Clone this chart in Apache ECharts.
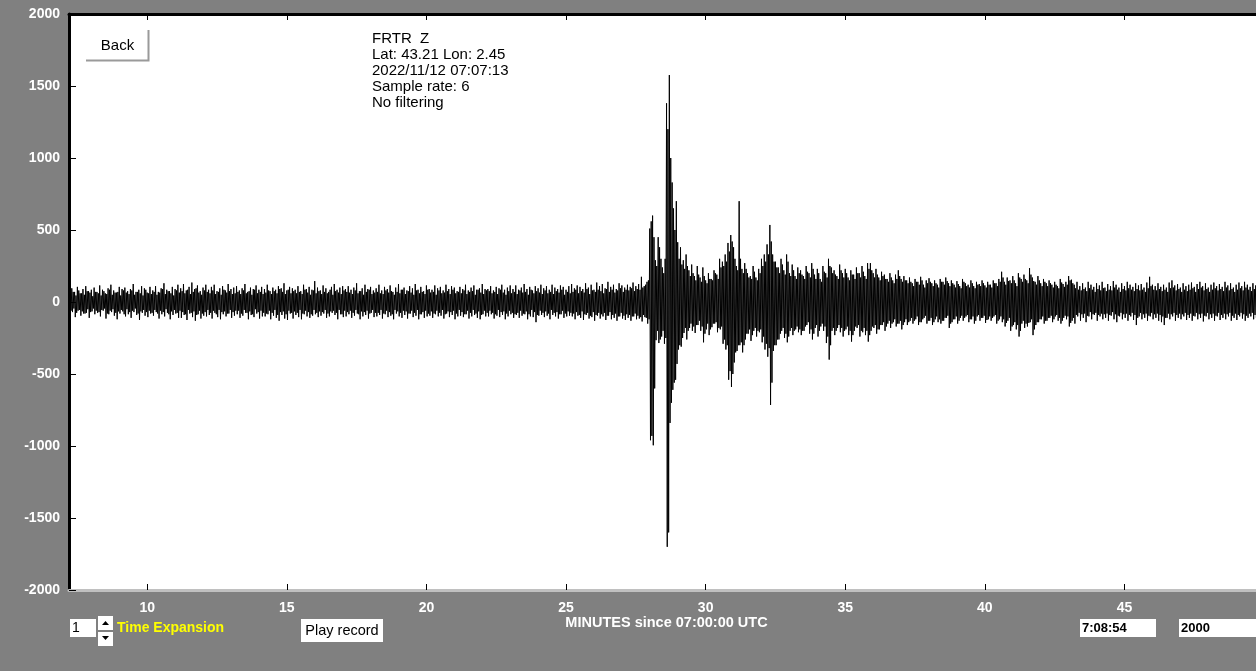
<!DOCTYPE html>
<html>
<head>
<meta charset="utf-8">
<script src="https://cdn.jsdelivr.net/npm/echarts@6/dist/echarts.min.js"></script>
<style>
html,body{margin:0;padding:0;background:#808080;overflow:hidden;}
#chart{width:1256px;height:671px;}
</style>
</head>
<body>
<div id="chart"></div>
<script>
// ---- data (minutes since 07:00:00 UTC, counts) ----
const startMinute = 7.2;      // time of first envelope step
const stepMinutes = 0.1;      // spacing of envelope steps
// outer swings (spikes) of each step
const upperPeaks = [
 80,95,70,105,60,90,110,75,85,100,
 70,115,85,60,95,120,80,65,105,90,
 100,75,90,125,70,85,110,95,65,105,
 80,110,70,95,130,85,75,105,90,120,
 95,125,80,105,135,90,115,75,100,120,
 85,105,120,75,95,110,80,125,90,100,
 110,80,95,125,70,100,90,115,85,105,
 90,120,75,100,85,110,95,130,80,105,
 95,85,110,75,120,90,105,85,145,100,
 80,115,95,70,105,125,85,100,110,90,
 110,85,100,130,75,95,120,90,105,80,
 95,120,80,105,90,115,70,100,125,85,
 100,80,110,95,125,85,105,75,115,90,
 85,115,95,105,80,120,90,110,100,75,
 105,90,120,80,100,115,85,95,125,90,
 90,110,80,105,95,120,85,100,115,90,
 115,85,100,125,90,105,80,110,95,120,
 95,110,85,120,100,90,115,105,85,110,
 125,95,115,105,90,130,100,120,85,135,
 110,125,95,140,105,120,90,130,115,100,
 120,105,135,110,125,175,110,140,510,600,
 290,450,300,200,1380,1576,830,500,415,380,
 290,330,220,260,180,250,170,240,150,200,
 160,220,190,300,280,330,410,465,380,250,
 700,230,270,200,180,250,170,230,300,330,
 400,535,330,280,240,300,220,330,200,260,
 180,240,220,180,250,200,270,190,230,160,
 250,200,300,240,220,180,260,200,230,170,
 220,190,240,200,250,180,270,270,200,230,
 170,210,190,160,200,150,190,220,160,180,
 150,170,130,160,140,175,120,150,165,130,
 150,120,160,140,170,130,150,120,145,110,
 160,130,120,150,110,140,125,150,115,140,
 120,150,130,160,210,140,170,150,180,130,
 200,160,190,150,235,170,140,180,130,160,
 130,150,120,140,110,160,125,140,180,155,
 120,140,110,130,100,140,120,105,130,115,
 140,100,125,110,145,120,100,130,110,140,
 120,105,130,115,125,100,135,175,120,110,
 130,105,120,100,135,150,115,125,100,130,
 110,120,135,105,125,140,110,130,100,120,
 135,110,125,105,140,115,130,100,120,135,
 110,140,120,105,130,115
];
const lowerPeaks = [
 -90,-70,-105,-60,-95,-80,-75,-110,-65,-85,
 -75,-100,-60,-115,-85,-70,-95,-120,-80,-65,
 -100,-85,-110,-70,-90,-125,-75,-95,-105,-80,
 -95,-70,-115,-85,-100,-75,-120,-90,-80,-110,
 -110,-90,-125,-80,-105,-130,-85,-115,-95,-100,
 -90,-115,-75,-105,-120,-85,-100,-80,-110,-95,
 -85,-110,-95,-75,-120,-90,-105,-80,-115,-100,
 -100,-85,-120,-95,-110,-130,-90,-115,-125,-80,
 -115,-90,-105,-120,-85,-100,-110,-95,-85,-105,
 -95,-80,-110,-100,-75,-90,-120,-85,-105,-100,
 -85,-110,-95,-80,-120,-100,-90,-115,-75,-105,
 -100,-90,-115,-85,-105,-95,-120,-80,-100,-110,
 -90,-115,-80,-105,-95,-120,-85,-110,-100,-95,
 -110,-85,-100,-95,-115,-80,-105,-90,-120,-100,
 -95,-105,-85,-115,-100,-90,-110,-120,-85,-100,
 -100,-85,-115,-95,-105,-90,-120,-100,-85,-110,
 -90,-110,-95,-85,-120,-100,-105,-140,-95,-90,
 -105,-95,-120,-90,-100,-115,-85,-110,-100,-95,
 -100,-120,-95,-110,-125,-90,-115,-105,-130,-95,
 -115,-100,-125,-95,-120,-110,-130,-100,-115,-125,
 -110,-130,-100,-120,-115,-135,-105,-150,-960,-995,
 -265,-285,-240,-290,-1700,-840,-610,-540,-330,-310,
 -215,-260,-180,-200,-215,-160,-200,-280,-190,-230,
 -175,-150,-210,-190,-290,-330,-540,-590,-420,-340,
 -300,-350,-260,-220,-270,-200,-240,-210,-280,-330,
 -380,-715,-340,-300,-260,-200,-250,-280,-200,-230,
 -190,-210,-230,-200,-160,-220,-260,-180,-240,-170,
 -200,-285,-400,-200,-230,-180,-210,-240,-190,-230,
 -275,-200,-180,-240,-210,-230,-275,-200,-180,-220,
 -190,-160,-200,-150,-180,-140,-170,-150,-190,-140,
 -160,-130,-150,-120,-160,-140,-110,-150,-130,-160,
 -120,-140,-150,-130,-110,-180,-140,-120,-150,-110,
 -130,-100,-140,-120,-150,-100,-130,-110,-145,-120,
 -130,-100,-150,-120,-140,-170,-130,-200,-160,-190,
 -240,-150,-180,-170,-140,-230,-160,-140,-120,-150,
 -130,-110,-140,-100,-130,-150,-110,-120,-170,-130,
 -150,-100,-130,-110,-140,-100,-120,-90,-130,-100,
 -120,-110,-130,-95,-120,-140,-100,-120,-110,-130,
 -100,-125,-160,-100,-120,-110,-130,-100,-120,-110,
 -130,-140,-160,-110,-120,-100,-130,-110,-120,-100,
 -125,-110,-130,-100,-120,-110,-135,-100,-120,-110,
 -130,-100,-125,-110,-120,-100,-130,-110,-125,-100,
 -115,-130,-110,-100,-120,-110
];
// inner swings (dense core) half a step later
const upperCore = [
 55,70,45,80,60,50,75,65,40,70,
 60,45,75,55,85,50,65,70,45,80,
 65,55,80,50,70,60,45,85,60,55,
 70,50,65,90,55,75,60,45,80,65,
 75,60,85,55,70,95,65,50,80,70,
 60,80,55,70,50,85,65,75,55,60,
 70,55,80,60,75,50,85,60,70,55,
 65,80,55,75,60,90,70,55,85,60,
 75,60,70,55,85,65,50,80,60,75,
 55,70,60,85,50,75,65,55,80,70,
 65,55,80,60,75,50,70,85,55,65,
 70,60,55,80,65,75,50,70,60,85,
 55,75,65,50,80,60,70,55,85,65,
 70,50,80,60,65,75,55,85,60,70,
 60,80,55,70,75,50,85,65,55,80,
 75,60,70,55,85,65,50,75,60,70,
 55,80,65,70,50,85,60,75,65,55,
 80,60,70,55,75,65,85,50,70,60,
 70,85,60,75,65,90,55,80,70,85,
 75,60,90,70,85,65,80,95,70,85,
 80,95,75,90,85,100,120,150,560,450,
 250,380,240,300,1200,1000,650,700,300,260,
 230,250,180,200,150,190,140,180,130,160,
 150,200,160,240,250,280,350,420,300,220,
 300,200,230,170,160,210,150,200,250,280,
 330,420,280,240,200,260,190,280,180,220,
 160,200,190,160,210,170,230,160,200,140,
 210,170,250,200,190,160,220,170,200,150,
 190,160,200,170,210,160,230,220,170,190,
 150,180,160,140,170,130,160,180,140,150,
 130,140,110,140,120,150,100,130,140,110,
 130,100,140,120,145,110,130,100,125,95,
 140,110,100,130,95,120,110,130,100,120,
 100,130,110,140,170,120,145,130,150,110,
 170,140,160,130,190,145,120,150,110,140,
 110,130,100,120,95,135,105,120,150,130,
 95,85,80,90,75,95,85,70,90,80,
 95,75,85,80,100,85,70,90,80,95,
 85,75,90,80,85,70,95,110,85,80,
 90,75,85,70,95,100,80,90,70,85,
 75,85,95,70,90,100,80,90,70,85,
 95,80,90,75,100,80,90,70,85,95,
 80,100,85,75,90,80
];
const lowerCore = [
 -60,-45,-75,-55,-65,-80,-50,-70,-45,-60,
 -70,-55,-45,-80,-60,-50,-75,-65,-55,-85,
 -50,-70,-60,-45,-80,-65,-55,-70,-60,-75,
 -55,-80,-60,-70,-50,-85,-65,-55,-75,-60,
 -70,-85,-55,-75,-65,-90,-60,-80,-70,-55,
 -75,-60,-85,-55,-70,-65,-80,-55,-70,-60,
 -60,-80,-55,-75,-65,-85,-50,-70,-60,-75,
 -80,-60,-75,-55,-90,-70,-65,-85,-60,-75,
 -65,-75,-55,-80,-60,-70,-85,-55,-75,-65,
 -70,-55,-80,-65,-60,-75,-55,-85,-60,-70,
 -60,-75,-55,-85,-65,-70,-60,-80,-55,-75,
 -75,-55,-80,-60,-70,-85,-55,-65,-75,-60,
 -65,-80,-60,-75,-55,-85,-70,-60,-80,-65,
 -80,-60,-75,-55,-85,-65,-70,-60,-80,-55,
 -70,-85,-60,-75,-55,-80,-65,-90,-60,-75,
 -60,-75,-85,-55,-70,-65,-80,-60,-75,-85,
 -75,-60,-80,-65,-85,-55,-70,-90,-60,-75,
 -65,-80,-55,-75,-70,-85,-60,-80,-65,-75,
 -80,-70,-90,-65,-85,-75,-95,-70,-90,-75,
 -85,-75,-95,-70,-90,-80,-100,-75,-95,-85,
 -90,-100,-80,-95,-105,-90,-110,-120,-930,-600,
 -200,-260,-200,-250,-1600,-700,-560,-430,-300,-250,
 -180,-200,-150,-170,-160,-130,-170,-220,-150,-190,
 -150,-140,-180,-170,-260,-300,-480,-500,-350,-300,
 -280,-300,-220,-190,-230,-180,-200,-190,-240,-290,
 -320,-560,-300,-260,-220,-180,-220,-240,-180,-200,
 -170,-190,-200,-170,-140,-190,-220,-160,-200,-150,
 -170,-240,-300,-180,-200,-160,-180,-200,-170,-200,
 -230,-170,-160,-200,-180,-200,-230,-170,-160,-190,
 -160,-140,-170,-130,-150,-120,-150,-130,-160,-120,
 -140,-110,-130,-100,-140,-120,-95,-130,-110,-140,
 -100,-120,-130,-110,-95,-150,-120,-100,-130,-95,
 -110,-90,-120,-100,-130,-90,-110,-95,-125,-100,
 -110,-90,-130,-100,-120,-145,-110,-170,-140,-160,
 -200,-130,-150,-145,-120,-190,-140,-120,-100,-130,
 -110,-95,-120,-90,-110,-130,-95,-100,-145,-110,
 -90,-75,-85,-80,-95,-70,-85,-75,-90,-80,
 -85,-80,-90,-70,-85,-95,-75,-85,-80,-90,
 -75,-90,-110,-75,-85,-80,-95,-75,-85,-80,
 -90,-100,-110,-80,-85,-75,-90,-80,-85,-75,
 -90,-80,-95,-75,-85,-80,-95,-75,-85,-80,
 -95,-75,-90,-80,-85,-75,-95,-80,-90,-75,
 -85,-95,-80,-75,-90,-80
];
const xTickMinutes = [10, 15, 20, 25, 30, 35, 40, 45];
const infoLines = ['FRTR  Z', 'Lat: 43.21 Lon: 2.45', '2022/11/12 07:07:13', 'Sample rate: 6', 'No filtering'];
const xAxisTitle = 'MINUTES since 07:00:00 UTC';

// trace: each step swings spike-up, spike-down, core-up, core-down
const trace = [];
for (let i = 0; i < upperPeaks.length; i++) {
  const t = startMinute + i * stepMinutes;
  const q = stepMinutes / 4;
  trace.push([t, upperPeaks[i]]);
  trace.push([t + q, lowerPeaks[i]]);
  trace.push([t + 2 * q, upperCore[i]]);
  trace.push([t + 3 * q, lowerCore[i]]);
}

const FONT = '"Liberation Sans", Arial, sans-serif';
const whiteLbl = {
  color: '#fff', fontWeight: 'bold', fontSize: 14, fontFamily: FONT,
  textShadowColor: '#000', textShadowOffsetX: 1, textShadowOffsetY: 1, textShadowBlur: 0
};

const chart = echarts.init(document.getElementById('chart'), null, {renderer: 'canvas'});
chart.setOption({
  backgroundColor: '#808080',
  animation: false,
  grid: {
    left: 69, right: 0, top: 14, bottom: 81,
    show: true, backgroundColor: '#ffffff', borderWidth: 0,
    containLabel: false, outerBoundsMode: 'none'
  },
  xAxis: [
    {
      type: 'value', position: 'bottom', min: 7.2, max: 49.71,
      axisLine: {show: true, onZero: false, lineStyle: {color: '#c0c0c0', width: 3}},
      axisTick: {show: true, inside: true, length: 6, customValues: xTickMinutes, lineStyle: {color: '#000', width: 1}},
      axisLabel: Object.assign({show: true, margin: 11, customValues: xTickMinutes, formatter: v => String(v)}, whiteLbl),
      splitLine: {show: false},
      name: xAxisTitle, nameLocation: 'middle', nameGap: 25, nameMoveOverlap: false,
      nameTextStyle: Object.assign({}, whiteLbl, {fontWeight: 'bold', fontSize: 14.5, padding: [0, 0, 0, 8]})
    },
    {
      type: 'value', position: 'top', min: 7.2, max: 49.71,
      axisLine: {show: true, onZero: false, lineStyle: {color: '#000', width: 3}},
      axisTick: {show: true, inside: true, length: 6, customValues: xTickMinutes, lineStyle: {color: '#000', width: 1}},
      axisLabel: {show: false},
      splitLine: {show: false}
    }
  ],
  yAxis: {
    type: 'value', min: -2000, max: 2000, interval: 500,
    axisLine: {show: true, onZero: false, lineStyle: {color: '#000', width: 3}},
    axisTick: {show: true, inside: true, length: 7, lineStyle: {color: '#000', width: 1}},
    axisLabel: Object.assign({show: true, margin: 9, formatter: v => String(v)}, whiteLbl),
    splitLine: {show: false}
  },
  series: [{
    type: 'line',
    data: trace,
    xAxisIndex: 0,
    symbol: 'none',
    showSymbol: false,
    sampling: 'none',
    lineStyle: {color: '#000', width: 1},
    silent: true,
    z: 2
  }],
  graphic: [
    // Back button
    {type: 'rect', shape: {x: 86, y: 30, width: 63, height: 31}, style: {fill: '#ffffff'}, z: 100},
    {type: 'polyline', shape: {points: [[86, 60.5], [148.5, 60.5], [148.5, 30]]}, style: {stroke: '#9a9a9a', lineWidth: 2, fill: null}, z: 101},
    {type: 'text', x: 117.5, y: 45.5, style: {text: 'Back', fontSize: 15, fontFamily: FONT, fill: '#000', align: 'center', verticalAlign: 'middle'}, z: 102},
    // station info
    {type: 'text', x: 372, y: 30.5, style: {text: infoLines.join('\n'), fontSize: 15, fontFamily: FONT, lineHeight: 16, fill: '#000', align: 'left', verticalAlign: 'top'}, z: 102},
    // time expansion box + spinner
    {type: 'rect', shape: {x: 70, y: 619, width: 26, height: 18}, style: {fill: '#ffffff'}, z: 100},
    {type: 'text', x: 72, y: 628, style: {text: '1', fontSize: 14, fontFamily: FONT, fill: '#000', align: 'left', verticalAlign: 'middle'}, z: 102},
    {type: 'rect', shape: {x: 98, y: 616, width: 15, height: 14}, style: {fill: '#ffffff'}, z: 100},
    {type: 'rect', shape: {x: 98, y: 632, width: 15, height: 14}, style: {fill: '#ffffff'}, z: 100},
    {type: 'polygon', shape: {points: [[102, 625], [109, 625], [105.5, 621]]}, style: {fill: '#000'}, z: 102},
    {type: 'polygon', shape: {points: [[102, 636], [109, 636], [105.5, 640]]}, style: {fill: '#000'}, z: 102},
    {type: 'text', x: 117, y: 628, style: {text: 'Time Expansion', fontSize: 14, fontWeight: 'bold', fontFamily: FONT, fill: '#ffff00', textShadowColor: '#0000ff', textShadowOffsetX: 1, textShadowOffsetY: 2, textShadowBlur: 0, align: 'left', verticalAlign: 'middle'}, z: 102},
    // play record button
    {type: 'rect', shape: {x: 301, y: 619, width: 82, height: 23}, style: {fill: '#ffffff'}, z: 100},
    {type: 'text', x: 342, y: 630.5, style: {text: 'Play record', fontSize: 14.5, fontFamily: FONT, fill: '#000', align: 'center', verticalAlign: 'middle'}, z: 102},
    // time and scale boxes
    {type: 'rect', shape: {x: 1080, y: 619, width: 76, height: 18}, style: {fill: '#ffffff'}, z: 100},
    {type: 'text', x: 1082, y: 628, style: {text: '7:08:54', fontSize: 13, fontWeight: 'bold', fontFamily: FONT, fill: '#000', align: 'left', verticalAlign: 'middle'}, z: 102},
    {type: 'rect', shape: {x: 1179, y: 619, width: 77, height: 18}, style: {fill: '#ffffff'}, z: 100},
    {type: 'text', x: 1181, y: 628, style: {text: '2000', fontSize: 13, fontWeight: 'bold', fontFamily: FONT, fill: '#000', align: 'left', verticalAlign: 'middle'}, z: 102}
  ]
});
</script>
</body>
</html>
